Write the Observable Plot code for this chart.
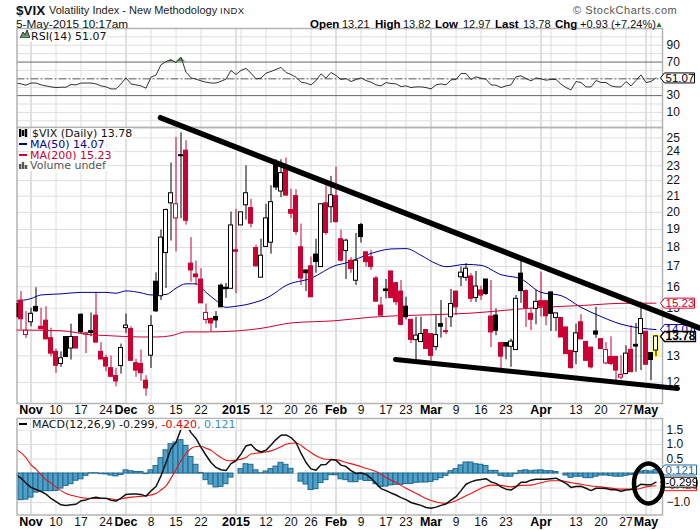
<!DOCTYPE html>
<html>
<head>
<meta charset="utf-8">
<script src="https://cdn.jsdelivr.net/npm/d3@7"></script>
<script src="https://cdn.jsdelivr.net/npm/@observablehq/plot@0.6"></script>
<style>
  html, body { margin: 0; padding: 0; background: white; }
  #page { position: relative; width: 700px; height: 530px; overflow: hidden; font-family: "Liberation Sans", Arial, sans-serif; color: #111; }
  #page svg { position: absolute; left: 0; }
  .txt { position: absolute; white-space: nowrap; }
  .q { position: absolute; white-space: nowrap; top: 18px; font-size: 11px; }
  .q.k { font-weight: bold; font-size: 11.5px; color: #000; }
  .leg { position: absolute; white-space: nowrap; font-family: "DejaVu Sans", sans-serif; font-size: 11px; line-height: 11px; background: rgba(255,255,255,.85); padding: 0 1px; }
  .dash { position: absolute; width: 8px; height: 2px; }
</style>
</head>
<body>
<div id="page">
  <div id="rsi"></div>
  <div id="main"></div>
  <div id="macd"></div>

  <div class="txt" style="left:16px;top:2px;font-size:13.5px;font-weight:bold;line-height:17px">$VIX</div>
  <div class="txt" style="left:49px;top:3px;font-size:11px;line-height:15px;color:#222">Volatility Index - New Methodology</div>
  <div class="txt" style="left:220px;top:5px;font-size:9.5px;line-height:12px;letter-spacing:.5px;color:#222">INDX</div>
  <div class="txt" style="left:16px;top:17px;font-size:11.8px;line-height:14px">5-May-2015 10:17am</div>
  <div class="txt" style="left:573px;top:4px;font-size:11px;letter-spacing:.55px;color:#555">© StockCharts.com</div>

  <div class="q k" style="left:310px">Open</div><div class="q" style="left:342px">13.21</div>
  <div class="q k" style="left:375px">High</div><div class="q" style="left:403px">13.82</div>
  <div class="q k" style="left:435px">Low</div><div class="q" style="left:463px">12.97</div>
  <div class="q k" style="left:495px">Last</div><div class="q" style="left:523px">13.78</div>
  <div class="q k" style="left:555px">Chg</div><div class="q" style="left:580px">+0.93 (+7.24%)</div>
  <div class="q" style="left:655px;top:20px;color:#2a6e2a;font-size:8px">▲</div>

  <!-- legends -->
  <svg width="10" height="8" style="left:20px;top:30px"><path d="M0 8L3 2L5 5L7 0L10 8Z" fill="#6a9a6a" stroke="#333"/></svg>
  <div class="leg" style="left:30px;top:31px">RSI(14) 51.07</div>

  <svg width="9" height="8" style="left:19px;top:129px"><path d="M1 0V8M4 1V7M7 0V8" stroke="#000" stroke-width="2.4"/></svg>
  <div class="leg" style="left:31px;top:128px">$VIX (Daily) 13.78</div>
  <div class="dash" style="left:19px;top:143px;background:#000099"></div>
  <div class="leg" style="left:29px;top:139px;color:#000099">MA(50) 14.07</div>
  <div class="dash" style="left:19px;top:154px;background:#cc0033"></div>
  <div class="leg" style="left:29px;top:150px;color:#cc0033">MA(200) 15.23</div>
  <svg width="9" height="8" style="left:19px;top:161px"><path d="M1 8V3M4 8V1M7 8V4" stroke="#555" stroke-width="2.4"/></svg>
  <div class="leg" style="left:29px;top:160px;color:#555">Volume undef</div>

  <div class="dash" style="left:19px;top:423px;background:#000"></div>
  <div class="leg" style="left:31px;top:419px">MACD(12,26,9) -0.299<span style="color:#e00">, -0.420</span><span style="color:#3a8fc0">, 0.121</span></div>
</div>

<script>
// candles, oldest first, one per trading day (late Oct 2014 .. 5 May 2015)
// B filled black, H hollow black, R filled red, E hollow red
const kinds = ("BREHBRRRRH" + "BHRBEBRRRR" + "RHHRRRRHBH" + "HHEBRRRRER" + "BBBHRHHRRH" +
  "HHBHRRRRBR" + "BHRHRRHRHB" + "RRRRBRRRBR" + "HHRRHBRHRH" + "HRHRBRBRBH" +
  "HBRRHRRBHR" + "RRHRRRBRER" + "REHRBHRBH").split("")

const highs = [
  15.2,15.77,14.85,15.0,15.95,15.0,15.07,14.13,13.27,13.16,
  13.76,14.3,13.76,14.74,13.95,14.79,15.73,13.53,13.03,13.0,
  12.53,13.47,14.74,14.19,12.87,13.23,12.25,14.67,16.68,18.96,
  20.2,23.19,25.05,25.39,24.8,18.54,17.28,16.89,15.19,14.57,
  14.85,16.14,16.16,20.02,20.18,20.0,23.0,20.8,18.12,18.45,
  20.49,21.67,23.42,23.42,23.54,21.44,21.4,19.31,16.83,17.49,
  18.45,20.49,21.66,22.28,22.91,18.96,18.45,17.46,18.77,19.35,
  17.74,17.85,16.5,15.5,16.35,16.75,16.22,16.3,15.5,14.49,
  14.6,14.6,14.05,13.88,14.67,15.35,14.57,15.87,15.77,16.97,
  17.15,16.64,16.75,16.03,16.35,16.3,14.97,13.51,13.51,13.67,
  15.58,17.27,15.85,14.97,15.82,16.71,15.32,15.73,14.77,14.57,
  14.16,13.2,14.3,14.71,13.56,13.33,15.04,13.67,13.53,13.77,
  12.96,13.0,13.4,14.23,14.33,15.27,13.98,13.11,13.82]

const bodyTops = [
  15.2,15.35,14.02,14.75,15.06,14.19,14.45,13.71,13.16,12.91,
  13.76,13.76,13.76,14.71,13.91,14.0,14.67,13.16,12.92,12.53,
  12.24,13.31,14.24,14.09,12.72,12.69,12.07,14.22,16.24,18.54,
  20.14,21.18,20.49,23.74,24.07,17.15,16.6,16.35,14.79,14.52,
  14.61,16.05,15.95,19.23,17.85,20.0,21.18,20.26,17.97,17.56,
  19.64,20.62,23.02,22.5,22.8,20.14,21.0,18.01,16.8,17.01,
  17.62,20.49,20.55,21.05,21.0,18.45,18.37,17.3,17.3,19.25,
  17.74,17.48,16.4,15.12,15.87,16.75,16.17,15.77,15.07,14.49,
  13.82,13.88,14.05,13.88,13.84,14.3,14.0,15.19,15.77,16.69,
  16.89,16.5,16.01,15.82,16.35,14.63,14.67,13.51,13.51,13.57,
  15.43,16.64,15.79,14.75,15.29,15.32,15.32,15.73,14.77,14.57,
  14.16,13.2,13.91,14.38,13.56,13.33,13.99,13.67,13.23,12.96,
  12.96,12.28,13.09,13.24,13.44,14.52,13.98,13.11,13.78]

const bodyBottoms = [
  14.6,14.51,13.84,14.38,14.86,14.08,13.66,13.09,12.62,12.69,
  12.96,13.29,13.29,13.95,13.86,13.93,13.53,12.86,12.59,12.21,
  12.04,12.61,14.13,12.81,12.44,12.34,11.79,13.01,14.86,15.55,
  17.7,20.55,19.64,23.67,19.5,16.8,16.46,15.22,14.48,14.33,
  14.46,15.04,15.88,15.9,17.77,19.23,20.43,19.33,17.01,16.44,
  18.03,18.26,21.55,21.29,21.03,19.92,18.86,16.4,16.66,15.5,
  17.23,16.97,18.8,20.31,19.42,17.3,17.81,16.87,16.29,18.57,
  17.23,16.97,15.3,14.67,15.79,15.46,15.27,14.27,14.6,13.64,
  13.63,13.55,13.27,13.0,13.35,14.19,13.96,14.6,15.04,16.46,
  16.43,15.43,15.47,15.58,15.66,13.95,14.02,12.97,13.37,13.36,
  13.23,15.79,15.01,14.49,14.97,15.07,14.64,14.75,14.57,13.74,
  13.07,12.53,13.15,13.66,12.81,12.56,13.86,13.27,12.71,12.69,
  12.44,12.18,12.31,12.38,13.37,13.88,12.66,12.84,13.21]

const lows = [
  14.6,14.05,13.7,14.19,14.81,14.08,13.66,12.96,12.34,12.56,
  12.93,12.84,13.29,13.91,13.09,13.77,13.53,12.86,12.4,12.19,
  11.85,12.31,13.91,12.81,12.19,12.04,11.52,12.52,14.81,15.35,
  15.92,18.35,17.76,19.62,19.25,16.22,16.06,15.22,14.3,13.98,
  14.12,15.04,15.45,15.9,15.67,19.23,19.54,19.09,16.97,16.44,
  18.03,17.64,21.35,20.9,21.03,19.62,18.67,16.06,15.77,15.5,
  16.66,16.97,18.67,19.36,19.38,17.22,16.35,16.66,16.06,18.24,
  16.97,16.8,15.26,14.67,15.43,15.46,15.12,14.23,14.48,13.49,
  12.84,13.55,13.27,12.81,13.2,13.71,13.85,14.16,14.67,16.01,
  16.26,15.26,15.26,15.35,15.58,13.33,13.81,12.5,12.85,12.56,
  13.23,15.22,14.16,14.02,14.27,14.6,14.23,13.99,13.99,13.74,
  13.07,12.5,12.66,13.66,12.81,12.5,13.7,13.27,12.66,12.62,
  12.07,12.1,12.31,12.38,12.38,12.44,12.66,12.07,12.97]

// moving averages, read at a few days
const ma50Days = [0,3,5,9,13,18,20,22,25,27,30,32,34,36,38,40,42,44,46,48,49,51,54,59,64,66,71,75,78,81,84,86,90,93,97,101,105,109,113,117,121,125,128]
const ma50 = [15.32,15.44,15.61,15.66,15.73,15.73,15.69,15.8,15.71,15.61,15.63,15.93,16.14,16.14,15.73,15.35,15.04,15.09,15.16,15.28,15.35,15.58,16.06,16.41,17.06,17.18,17.68,17.92,17.94,17.58,17.15,16.99,17.11,17.06,16.59,16.38,15.73,15.58,15.04,14.63,14.3,14.13,14.07]
const ma200Days = [0,9,15,18,25,28,31,34,38,44,49,55,64,71,77,83,91,97,105,113,121,128]
const ma200 = [14.05,14.02,13.85,13.82,13.76,13.76,13.81,13.97,13.97,14.01,14.12,14.35,14.45,14.6,14.67,14.71,14.78,14.89,15.04,15.12,15.22,15.23]

const rsi = [
  44.8,44,42.4,45,45,42.8,41.6,40.4,39.6,40,
  40,43.2,42.8,45,45,45,44,41.6,40.4,38,
  38,44,51.2,44,42.8,41.6,38.8,52,54.4,66.8,
  70.4,72.8,69.2,75.6,58,51.2,49.6,47.6,46,45,
  45,47.2,49.6,60,55.2,60,62.4,56.8,50,50.8,
  56.8,58.8,61.2,63.6,57.6,55.2,52,46,45,42.8,
  48,56,50.8,57.6,54,49.2,50.4,46.8,49.2,51.2,
  48,46,42.8,41.6,45.6,44.4,44,40.8,41.6,39.6,
  40.4,40.4,39.6,38,42.8,44,42.8,48.8,49.2,56.4,
  56.4,49.2,52.4,50.8,49.6,42.8,42.4,39.6,41.6,42.8,
  52.4,53.6,50.4,47.6,51.2,50,48.4,49.2,49.2,43.6,
  39.6,36.8,46.8,45.6,40.4,40.4,48,45.6,45.6,41.6,
  40.4,40.4,46.8,41.6,48,54.8,45.6,46.8,51.07]

const macdHist = [
  -.9,-.92,-.9,-.83,-.66,-.62,-.61,-.61,-.6,-.52,
  -.43,-.37,-.25,-.2,-.08,.01,.01,-.02,-.03,-.07,
  -.1,-.05,.11,.08,.05,.05,-.02,.11,.26,.53,
  .8,1.01,1.07,1.15,.95,.57,.3,.02,-.23,-.38,
  -.48,-.46,-.37,-.14,0,.15,.32,.3,.11,.01,
  .07,.15,.24,.37,.3,.16,0,-.28,-.38,-.57,
  -.54,-.33,-.23,-.06,-.06,-.2,-.23,-.3,-.3,-.21,
  -.26,-.26,-.37,-.46,-.45,-.41,-.39,-.39,-.36,-.36,
  -.32,-.31,-.31,-.29,-.23,-.16,-.08,.08,.15,.28,
  .38,.38,.32,.3,.26,.09,.09,-.08,-.11,-.11,
  -.02,.09,.11,.08,.1,.11,.08,.08,.05,0,
  -.07,-.15,-.11,-.11,-.16,-.16,-.11,-.07,-.07,-.09,
  -.11,-.11,-.08,-.05,-.02,.07,.09,.07,.121]

const macdLine = [
  -.05,-.16,-.33,-.48,-.55,-.62,-.71,-.86,-.97,-1.08,
  -1.1,-1.08,-1.06,-.94,-.91,-.85,-.82,-.85,-.85,-.92,
  -.95,-.85,-.72,-.71,-.71,-.72,-.78,-.6,-.45,-.08,
  .37,.86,1.07,1.53,1.7,1.41,1.21,.9,.63,.38,
  .21,.13,.1,.34,.44,.67,.95,1.0,.82,.74,
  .8,.98,1.17,1.32,1.33,1.24,1.07,.7,.38,.16,
  .11,.3,.31,.48,.46,.29,.24,.1,0,.02,
  -.03,-.16,-.34,-.52,-.59,-.67,-.74,-.83,-.9,-1.0,
  -1.05,-1.1,-1.17,-1.2,-1.16,-1.1,-1.05,-.92,-.8,-.59,
  -.37,-.29,-.23,-.21,-.18,-.29,-.34,-.46,-.54,-.57,
  -.46,-.3,-.3,-.23,-.2,-.2,-.2,-.18,-.16,-.25,
  -.34,-.48,-.45,-.44,-.51,-.59,-.51,-.51,-.52,-.56,
  -.56,-.61,-.57,-.55,-.48,-.37,-.39,-.39,-.299]

const signalDays = [0,2,3,4,5,6,7,8,9,10,11,12,13,15,17,19,20,22,24,26,28,29,30,31,32,33,34,35,36,37,38,39,40,41,42,43,44,46,47,49,51,53,54,56,58,60,62,64,66,68,70,72,74,76,78,80,82,84,86,88,90,91,93,95,97,99,101,103,105,107,109,111,113,115,117,121,124,126,128]
const signalLine = [.84,.55,.3,.15,-.05,-.21,-.33,-.47,-.59,-.69,-.75,-.79,-.83,-.86,-.86,-.87,-.91,-.84,-.8,-.77,-.69,-.57,-.43,-.16,.14,.44,.69,.86,.93,.94,.87,.8,.67,.55,.46,.44,.46,.55,.67,.72,.78,.92,1.01,1.05,.84,.61,.49,.48,.38,.29,.18,.07,-.14,-.31,-.51,-.68,-.86,-.98,-1.03,-.94,-.77,-.69,-.51,-.4,-.41,-.46,-.41,-.4,-.32,-.25,-.25,-.32,-.37,-.43,-.46,-.54,-.54,-.46,-.42]

// x axis, in trading day numbers
const monthDays = [3,22,44,64,83,105,126]
const monthLabels = ["Nov","Dec","2015","Feb","Mar","Apr","May"]
const weekDays = [8,13,18,27,32,37,50,55,59,69,74,78,88,93,98,112,117,122]
const weekLabels = ["10","17","24","8","15","22","12","20","26","9","17","23","9","16","23","13","20","27"]
const unlabelledWeeks = [45,107,127]

const priceGrid = [12,13,14,15,16,17,18,19,20,21,22,23,24,25]
const priceTicks = [12,13,15,16,17,18,19,20,21,22,23,24,25] // 14 sits under the MA(50) tag
const rsiTicks = [90,70,30,10]
const rsiGrid = [0,10,20,40,60,80,90,100]
const macdTicks = [1.5,1.0,0.5,-1.0]
const macdGrid = [1.5,1.0,0.5,0,-0.5,-1.0]

// trend lines and circle drawn on the chart by hand
const upperTrendDays = [28.9,136.9]
const upperTrendPrices = [26.57,14.12]
const lowerTrendDays = [75.9,132.3]
const lowerTrendPrices = [12.86,11.79]
const circleDays = [126.5,128.55,129.4,128.55,126.5,124.45,123.6,124.45]
const circleValues = [.345,.143,-.345,-.833,-1.035,-.833,-.345,.143]

const RED = "#cc0033", BLUE = "#000099", GRID = "#dedede", MONTHGRID = "#c0c0c0", FRAME = "#b4b4b4"
const FONT = "Liberation Sans, Arial, sans-serif"

const candles = kinds.map((kind, i) => ({
  day: i, kind, high: highs[i], low: lows[i], top: bodyTops[i], bottom: bodyBottoms[i],
  color: kind == "R" || kind == "E" ? RED : "#000",
  fill: kind == "H" || kind == "E" ? "#fff" : (kind == "R" ? RED : "#000")
}))

const xScale = {domain: [0.2, 129.3]}
const allWeeks = weekDays.concat(unlabelledWeeks)

function verticalGrid() {
  return [
    Plot.ruleX(allWeeks, {stroke: GRID}),
    Plot.ruleX(monthDays, {stroke: MONTHGRID})
  ]
}

function dayAxes() {
  let lab = new Map(monthDays.map((d, i) => [d, monthLabels[i]]))
  let wk = new Map(weekDays.map((d, i) => [d, weekLabels[i]]))
  return [
    Plot.axisX({ticks: weekDays, tickFormat: d => wk.get(d), tickSize: 0, tickPadding: 2, fontSize: 12, fontFamily: FONT, label: null, fill: "#111"}),
    Plot.axisX({ticks: monthDays, tickFormat: d => lab.get(d), tickSize: 0, tickPadding: 2, fontSize: 12.5, fontWeight: "bold", fontFamily: FONT, label: null, fill: "#000"})
  ]
}

// little price tag on the right side, tip at the dot position
function tag(w) {
  return {draw(ctx) {
    ctx.moveTo(0, 0); ctx.lineTo(4, -5); ctx.lineTo(w, -5); ctx.lineTo(w, 5); ctx.lineTo(4, 5); ctx.closePath()
  }}
}
const TAGDAY = 128.9
function priceTag(value, text, color, opt = {}) {
  return [
    Plot.dot([value], {x: () => TAGDAY, y: d => d, symbol: tag(opt.w || 34), r: 5, fill: "#fff", stroke: color, strokeWidth: opt.sw || 1}),
    Plot.text([value], {x: () => TAGDAY, y: d => d, text: () => text, dx: 5, textAnchor: "start", fill: color, fontSize: opt.bold ? 12 : 11.5, fontWeight: opt.bold ? "bold" : "normal", fontFamily: FONT})
  ]
}

/* RSI panel */
let rsiChart = Plot.plot({
  width: 700, height: 129,
  marginLeft: 16.5, marginRight: 38, marginTop: 28, marginBottom: 2,
  style: {background: "transparent"},
  x: {...xScale, axis: null},
  y: {domain: [-8, 110], axis: null},
  marks: [
    ...verticalGrid(),
    Plot.ruleY(rsiGrid, {stroke: GRID}),
    Plot.ruleY([70, 30], {stroke: "#666"}),
    Plot.ruleY([50], {stroke: "#555", strokeDasharray: "8 2 2 2"}),
    Plot.areaY(rsi, {x: (d, i) => i, y1: 70, y2: d => Math.max(d, 70), fill: "#6a9a6a", clip: true}),
    Plot.line(rsi, {x: (d, i) => i, y: d => d, stroke: "#333", strokeWidth: 1, clip: true}),
    Plot.frame({stroke: FRAME, strokeWidth: 1.5}),
    Plot.axisY({anchor: "right", ticks: rsiTicks, tickSize: 0, tickPadding: 4, fontSize: 12, fontFamily: FONT, label: null, fill: "#111"}),
    ...priceTag(51.07, "51.07", "#000")
  ]
})
rsiChart.style.top = "0px"
d3.select("#rsi").append(() => rsiChart)

/* Price panel */
let mainChart = Plot.plot({
  width: 700, height: 325,
  marginLeft: 16.5, marginRight: 38, marginTop: 27, marginBottom: 22,
  style: {background: "transparent"},
  x: {...xScale, axis: null},
  y: {type: "log", domain: [11.27, 25.8], axis: null},
  marks: [
    ...verticalGrid(),
    Plot.ruleY(priceGrid, {stroke: GRID}),
    Plot.frame({stroke: FRAME, strokeWidth: 1.5}),
    Plot.rect(candles.slice(-1), {x1: d => d.day - 0.7, x2: d => d.day + 0.7, y1: 12.92, y2: 13.85, fill: "#ffff66"}),
    Plot.ruleX(candles, {x: "day", y1: "low", y2: "high", stroke: "color", strokeWidth: 1, clip: true}),
    Plot.line(ma50, {x: (d, i) => ma50Days[i], y: d => d, stroke: BLUE, strokeWidth: 1, curve: "monotone-x", clip: true}),
    Plot.line(ma200, {x: (d, i) => ma200Days[i], y: d => d, stroke: RED, strokeWidth: 1, curve: "monotone-x", clip: true}),
    Plot.rect(candles, {x1: d => d.day - 0.4, x2: d => d.day + 0.4, y1: "bottom", y2: "top", fill: "fill", stroke: "color", strokeWidth: 1, clip: true}),
    Plot.axisY({anchor: "right", ticks: priceTicks, tickFormat: d => d, tickSize: 0, tickPadding: 4, fontSize: 12, fontFamily: FONT, label: null, fill: "#111"}),
    ...dayAxes(),
    ...priceTag(15.23, "15.23", RED),
    ...priceTag(14.07, "14.07", BLUE),
    Plot.line(upperTrendPrices, {x: (d, i) => upperTrendDays[i], y: d => d, stroke: "#000", strokeWidth: 5.5, strokeLinecap: "round"}),
    Plot.line(lowerTrendPrices, {x: (d, i) => lowerTrendDays[i], y: d => d, stroke: "#000", strokeWidth: 5, strokeLinecap: "round"}),
    ...priceTag(13.78, "13.78", "#000", {bold: true, sw: 1.3, w: 35})
  ]
})
mainChart.style.top = "100px"
d3.select("#main").append(() => mainChart)

/* MACD panel */
let macdChart = Plot.plot({
  width: 700, height: 120,
  marginLeft: 16.5, marginRight: 38, marginTop: 8, marginBottom: 15.5,
  style: {background: "transparent"},
  x: {...xScale, axis: null},
  y: {domain: [-1.431, 1.897], axis: null},
  marks: [
    ...verticalGrid(),
    Plot.ruleY(macdGrid, {stroke: GRID}),
    Plot.rect(macdHist, {x1: (d, i) => i - 0.5, x2: (d, i) => i + 0.5, y1: 0, y2: d => d, fill: "#4f9fc9", stroke: "#1f6a8e", strokeWidth: 1, clip: true}),
    Plot.line(signalLine, {x: (d, i) => signalDays[i], y: d => d, stroke: "#ee1111", strokeWidth: 1.1, curve: "monotone-x", clip: true}),
    Plot.line(macdLine, {x: (d, i) => i, y: d => d, stroke: "#111", strokeWidth: 1.5, clip: true}),
    Plot.frame({stroke: FRAME, strokeWidth: 1.5}),
    Plot.axisY({anchor: "right", ticks: macdTicks, tickFormat: d3.format(".1f"), tickSize: 0, tickPadding: 4, fontSize: 12, fontFamily: FONT, label: null, fill: "#111"}),
    ...dayAxes(),
    ...priceTag(-0.42, "-0.420", "#ee1111", {w: 36}),
    ...priceTag(0.121, "0.121", "#1f6a9e", {w: 36}),
    ...priceTag(-0.299, "-0.299", "#000", {w: 36}),
    Plot.line(circleValues, {x: (d, i) => circleDays[i], y: d => d, stroke: "#000", strokeWidth: 4.5, curve: "catmull-rom-closed"})
  ]
})
macdChart.style.top = "410px"
d3.select("#macd").append(() => macdChart)
</script>
</body>
</html>
